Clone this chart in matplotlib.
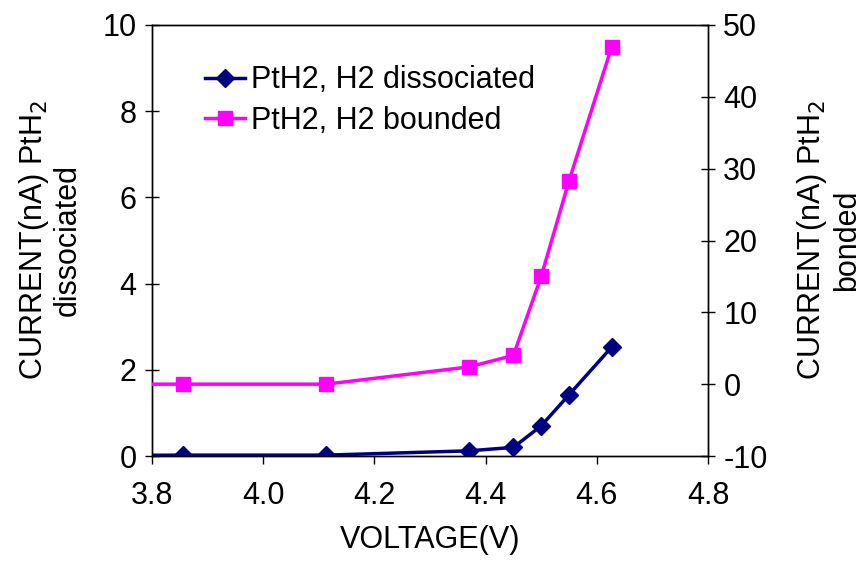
import matplotlib
matplotlib.use("Agg")
import matplotlib.pyplot as plt

plt.rcParams['font.family'] = ['Liberation Sans', 'DejaVu Sans']
plt.rcParams['axes.unicode_minus'] = False

voltage = [3.5, 3.855, 4.113, 4.37, 4.45, 4.5, 4.55, 4.627]
current_dissociated = [0.0, 0.02, 0.02, 0.12, 0.2, 0.7, 1.42, 2.53]
current_bonded = [0.0, 0.0, 0.0, 2.4, 4.0, 15.0, 28.3, 47.0]

x_ticks = [3.8, 4.0, 4.2, 4.4, 4.6, 4.8]
left_ticks = [0, 2, 4, 6, 8, 10]
right_ticks = [-10, 0, 10, 20, 30, 40, 50]

navy = '#000080'
magenta = '#FF00FF'
fs = 22

fig = plt.figure(figsize=(8.6, 5.63), dpi=100)
ax = fig.add_axes([152/860, 1 - 456/563, (708-152)/860, (456-25)/563])
ax2 = ax.twinx()

l1, = ax.plot(voltage, current_dissociated, color=navy, lw=2.5, marker='D',
              markersize=9, label='PtH2, H2 dissociated', zorder=3)
l2, = ax2.plot(voltage, current_bonded, color=magenta, lw=2.5, marker='s',
               markersize=10, label='PtH2, H2 bounded', zorder=3)

ax.set_xlim(3.8, 4.8)
ax.set_ylim(0, 10)
ax2.set_ylim(-10, 50)
ax.set_xticks(x_ticks)
ax.set_xticklabels([f'{t:.1f}' for t in x_ticks])
ax.set_yticks(left_ticks)
ax2.set_yticks(right_ticks)

ax.tick_params(axis='x', direction='out', length=6, width=1, labelsize=fs, pad=12)
ax.tick_params(axis='y', direction='inout', length=10, width=1, labelsize=fs, pad=6)
ax2.tick_params(axis='y', direction='inout', length=10, width=1, labelsize=fs, pad=6)

for a in (ax, ax2):
    for s in a.spines.values():
        s.set_linewidth(1)
        s.set_color('black')

ax.set_xlabel('VOLTAGE(V)', fontsize=fs, labelpad=10)
ax.set_ylabel('CURRENT(nA) PtH$_2$\ndissociated', fontsize=fs, labelpad=14, linespacing=1.1)
ax2.set_ylabel('CURRENT(nA) PtH$_2$\nbonded', fontsize=fs, labelpad=20, linespacing=1.1,
               rotation=90)

ax.legend(handles=[l1, l2], loc='upper left', bbox_to_anchor=(0.074, 0.935),
          frameon=False, fontsize=fs, handlelength=1.3, handletextpad=0.2,
          labelspacing=0.35, borderaxespad=0)

fig.savefig('out.png', dpi=100)
